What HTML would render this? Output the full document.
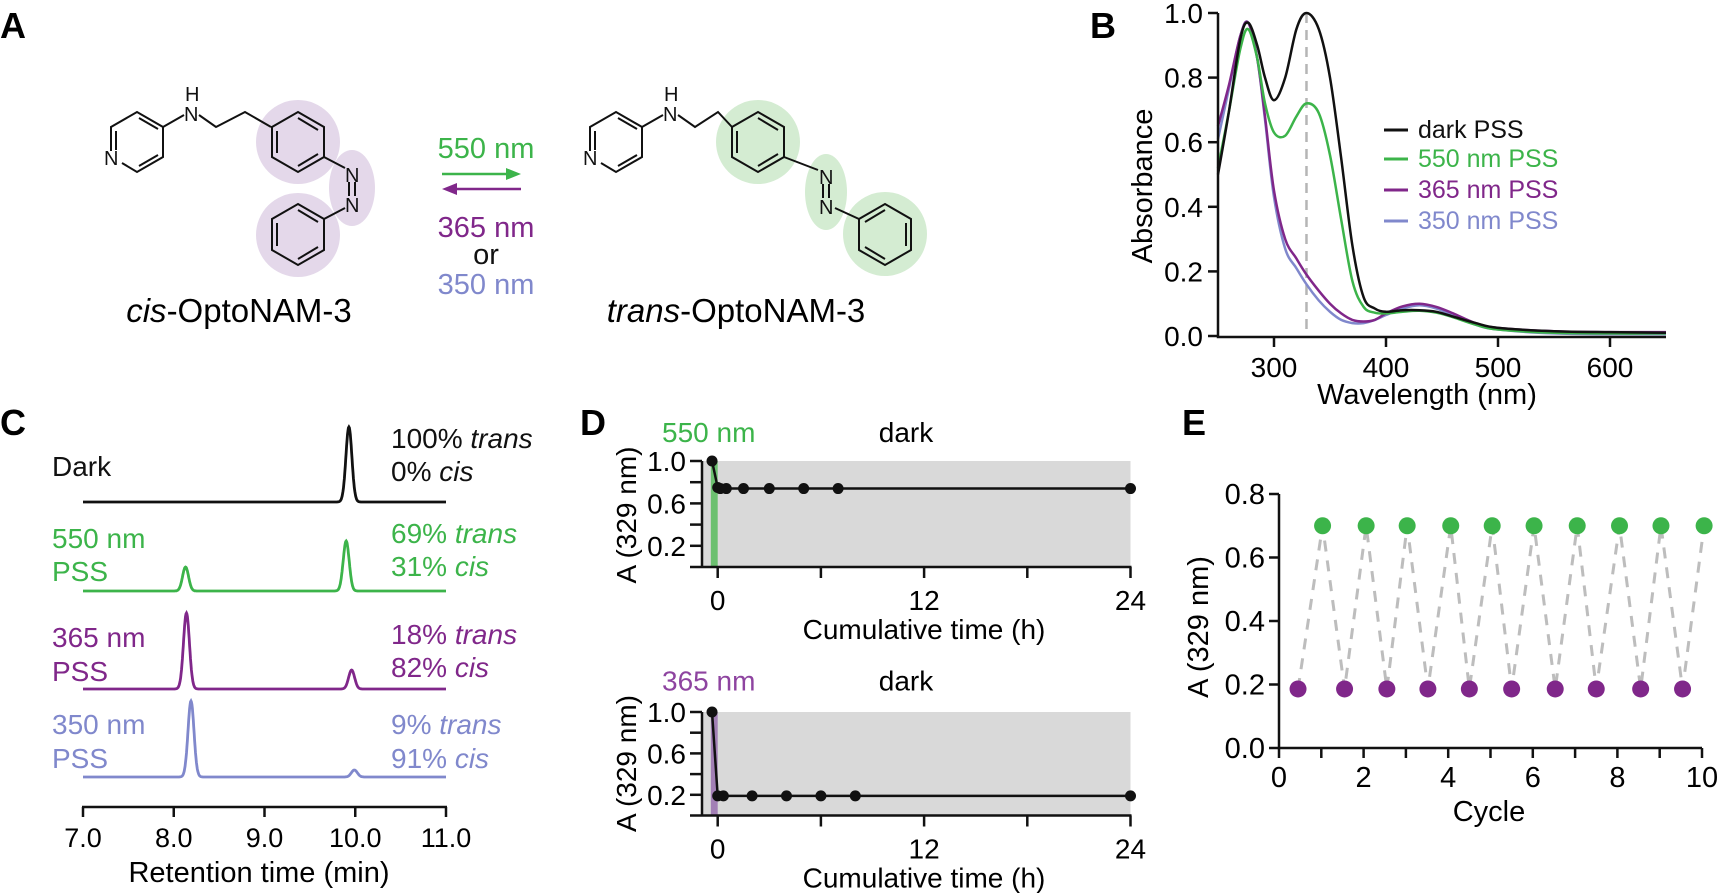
<!DOCTYPE html>
<html><head><meta charset="utf-8"><style>
html,body{margin:0;padding:0;background:#fff;}
svg{display:block;font-family:"Liberation Sans",Arial,sans-serif;}
</style></head><body>
<svg id="fig" width="1717" height="893" viewBox="0 0 1717 893" xmlns="http://www.w3.org/2000/svg">
<!-- Panel A -->
<g>
<text x="0" y="38" font-size="36" font-weight="bold">A</text>
<g fill="none" stroke="#111" stroke-width="2">
 <circle cx="298" cy="142" r="42" fill="#e4d8ea" stroke="none"/>
 <circle cx="298" cy="235" r="42" fill="#e4d8ea" stroke="none"/>
 <ellipse cx="352" cy="188" rx="23" ry="38" fill="#e4d8ea" stroke="none"/>
 <polyline points="111,151 111,127 137,112 163,127 163,157 137,172 122,163"/>
 <line x1="116" y1="131" x2="116" y2="150"/><line x1="139" y1="118" x2="158" y2="129"/><line x1="139" y1="166" x2="158" y2="155"/>
 <polyline points="163,127 184,115"/><polyline points="199,115 216,127 245,112 271,127"/>
 <polygon points="298,112 324,127 324,157 298,172 272,157 272,127"/>
 <line x1="277" y1="131" x2="277" y2="153"/><line x1="298" y1="118" x2="318" y2="130"/><line x1="298" y1="166" x2="318" y2="154"/>
 <line x1="324" y1="157" x2="345" y2="168"/>
 <line x1="349" y1="182" x2="349" y2="196"/><line x1="355" y1="182" x2="355" y2="196"/>
 <line x1="345" y1="208" x2="324" y2="219"/>
 <polygon points="298,204 324,219 324,250 298,265 272,250 272,219"/>
 <line x1="277" y1="223" x2="277" y2="246"/><line x1="298" y1="210" x2="318" y2="222"/><line x1="298" y1="259" x2="318" y2="247"/>
 <g stroke="none" fill="#111" font-size="20">
  <text x="104" y="165">N</text><text x="184" y="121">N</text><text x="185" y="101">H</text>
  <text x="345" y="182">N</text><text x="345" y="212">N</text>
 </g>
</g>
<text x="239" y="322" font-size="33" text-anchor="middle"><tspan font-style="italic">cis</tspan>-OptoNAM-3</text>
<g>
 <text x="486" y="158" font-size="29" fill="#3cb44a" text-anchor="middle">550 nm</text>
 <line x1="442" y1="174" x2="510" y2="174" stroke="#3cb44a" stroke-width="2.5"/>
 <polygon points="521,174 506,168 506,180" fill="#3cb44a"/>
 <line x1="453" y1="189" x2="521" y2="189" stroke="#80278a" stroke-width="2.5"/>
 <polygon points="442,189 457,183 457,195" fill="#80278a"/>
 <text x="486" y="237" font-size="29" fill="#80278a" text-anchor="middle">365 nm</text>
 <text x="486" y="264" font-size="29" fill="#111" text-anchor="middle">or</text>
 <text x="486" y="294" font-size="29" fill="#8088cc" text-anchor="middle">350 nm</text>
</g>
<g fill="none" stroke="#111" stroke-width="2">
 <circle cx="758" cy="142" r="42" fill="#d4ecd2" stroke="none"/>
 <ellipse cx="826" cy="192" rx="21" ry="38" fill="#d4ecd2" stroke="none"/>
 <circle cx="885" cy="234" r="42" fill="#d4ecd2" stroke="none"/>
 <polyline points="590,151 590,127 616,112 642,127 642,157 616,172 601,163"/>
 <line x1="595" y1="131" x2="595" y2="150"/><line x1="618" y1="118" x2="637" y2="129"/><line x1="618" y1="166" x2="637" y2="155"/>
 <polyline points="642,127 663,115"/><polyline points="678,115 695,127 718,112 732,127"/>
 <polygon points="758,112 784,127 784,157 758,172 732,157 732,127"/>
 <line x1="737" y1="131" x2="737" y2="153"/><line x1="758" y1="118" x2="778" y2="130"/><line x1="758" y1="166" x2="778" y2="154"/>
 <line x1="784" y1="157" x2="818" y2="170"/>
 <line x1="823" y1="184" x2="823" y2="198"/><line x1="829" y1="184" x2="829" y2="198"/>
 <line x1="835" y1="208" x2="859" y2="219"/>
 <polygon points="885,204 911,219 911,250 885,265 859,250 859,219"/>
 <line x1="906" y1="223" x2="906" y2="246"/><line x1="865" y1="222" x2="885" y2="210"/><line x1="865" y1="247" x2="885" y2="259"/>
 <g stroke="none" fill="#111" font-size="20">
  <text x="583" y="165">N</text><text x="663" y="121">N</text><text x="664" y="101">H</text>
  <text x="819" y="184">N</text><text x="819" y="214">N</text>
 </g>
</g>
<text x="736" y="322" font-size="33" text-anchor="middle"><tspan font-style="italic">trans</tspan>-OptoNAM-3</text>
</g>
<g id="panelB"></g>
<g id="panelC"></g>
<g id="panelD"></g>
<g id="panelE"></g>
</svg>
<script>
// ---------- Panel B data ----------
const bWavelengths = [250,260,270,277,285,292,300,310,320,329,340,350,360,370,380,390,400,415,430,445,460,480,500,550,600,650];
const bDark   = [.50,.70,.92,.97,.90,.80,.73,.80,.95,1.0,.95,.80,.55,.28,.12,.085,.075,.08,.08,.075,.06,.04,.025,.015,.012,.01];
const b550    = [.52,.70,.89,.95,.86,.72,.63,.62,.68,.72,.69,.56,.36,.17,.09,.072,.07,.075,.078,.072,.058,.035,.02,.01,.008,.008];
const b365    = [.65,.78,.93,.97,.86,.68,.45,.30,.24,.19,.14,.10,.07,.05,.045,.05,.07,.092,.10,.09,.07,.04,.025,.015,.012,.012];
const b350    = [.61,.77,.93,.97,.86,.67,.43,.27,.21,.16,.11,.075,.05,.04,.04,.05,.065,.085,.095,.085,.065,.035,.02,.008,.006,.006];
const bSeriesNames = ["dark PSS","550 nm PSS","365 nm PSS","350 nm PSS"];
const bXTicks = [300,400,500,600];
const bYTicks = [0,0.2,0.4,0.6,0.8,1.0];
const bMarker = 329;
// ---------- Panel C data ----------
const cTraceLabels = [["Dark"],["550 nm","PSS"],["365 nm","PSS"],["350 nm","PSS"]];
const cTransText = ["100%","69%","18%","9%"];
const cCisText = ["0%","31%","82%","91%"];
const cPeakTimes = [[9.93],[8.13,9.9],[8.14,9.96],[8.19,9.99]];
const cPeakHeights = [[75],[24,50],[76,19],[76,7]];
const cXTicks = [7.0,8.0,9.0,10.0,11.0];
// ---------- Panel D data ----------
const dTopTimes = [-0.33,0,0.15,0.5,1.5,3,5,7,24];
const dTopVals  = [1.0,0.75,0.74,0.74,0.74,0.74,0.74,0.74,0.74];
const dBotTimes = [-0.33,0,0.33,2,4,6,8,24];
const dBotVals  = [1.0,0.19,0.19,0.19,0.19,0.19,0.19,0.19];
const dXTicks = [0,12,24];
const dYTickLabels = [0.2,0.6,1.0];
const dYMinor = [0.2,0.4,0.6,0.8,1.0];
// ---------- Panel E data ----------
const eGreenX = [1.03,2.06,3.03,4.06,5.04,6.03,7.05,8.05,9.03,10.05];
const eGreenY = [0.70,0.70,0.70,0.70,0.70,0.70,0.70,0.70,0.70,0.70];
const ePurpleX = [0.45,1.55,2.55,3.52,4.5,5.5,6.53,7.5,8.55,9.54];
const ePurpleY = [0.186,0.186,0.186,0.186,0.186,0.186,0.186,0.186,0.186,0.186];
const eXTicks = [0,2,4,6,8,10];
const eYTicks = [0.0,0.2,0.4,0.6,0.8];

const NS="http://www.w3.org/2000/svg";
function mk(parent,tag,attrs,text){const e=document.createElementNS(NS,tag);for(const k in attrs)e.setAttribute(k,attrs[k]);if(text!==undefined)e.textContent=text;parent.appendChild(e);return e;}
function smooth(pts){let d="M"+pts[0][0]+","+pts[0][1];for(let i=0;i<pts.length-1;i++){const p0=pts[Math.max(i-1,0)],p1=pts[i],p2=pts[i+1],p3=pts[Math.min(i+2,pts.length-1)];const c1=[p1[0]+(p2[0]-p0[0])/6,p1[1]+(p2[1]-p0[1])/6],c2=[p2[0]-(p3[0]-p1[0])/6,p2[1]-(p3[1]-p1[1])/6];d+=" C"+c1[0].toFixed(1)+","+c1[1].toFixed(1)+" "+c2[0].toFixed(1)+","+c2[1].toFixed(1)+" "+p2[0].toFixed(1)+","+p2[1].toFixed(1);}return d;}
const BLACK="#111", GREEN="#3cb44a", PURPLE="#80278a", LAV="#8088cc";

// ===== Panel B =====
(function(){
 const g=document.getElementById('panelB');
 const bx=v=>1218+(v-250)*1.12, by=v=>336-v*323;
 const lb=mk(g,'text',{x:1090,y:38,'font-size':36,'font-weight':'bold'},'B');
 
 
 const dl=mk(g,'line',{x1:bx(bMarker),x2:bx(bMarker),y1:by(1.0),y2:by(0),stroke:'#b5b5b5','stroke-width':2.5,'stroke-dasharray':'10,7'});
 
 
 const series=[bDark,b550,b365,b350], cols=[BLACK,GREEN,PURPLE,LAV];
 [3,2,1,0].forEach(i=>{
  const pts=bWavelengths.map((w,j)=>[bx(w),by(series[i][j])]);
  const p=mk(g,'path',{d:smooth(pts),fill:'none',stroke:cols[i],'stroke-width':2.5});
  
  
 });
 const ax=mk(g,'path',{d:`M1218,${by(1.0)} V337 H1666`,fill:'none',stroke:BLACK,'stroke-width':2.5});
 
 
 bYTicks.forEach(v=>{mk(g,'line',{x1:1208,x2:1218,y1:by(v),y2:by(v),stroke:BLACK,'stroke-width':2.5});
  const t=mk(g,'text',{x:1203,y:by(v)+10,'font-size':28,'text-anchor':'end'},v.toFixed(1));
  
  });
 bXTicks.forEach(v=>{mk(g,'line',{x1:bx(v),x2:bx(v),y1:337,y2:347,stroke:BLACK,'stroke-width':2.5});
  const t=mk(g,'text',{x:bx(v),y:377,'font-size':28,'text-anchor':'middle'},v);
  
  });
 const xt=mk(g,'text',{x:1427,y:404,'font-size':29,'text-anchor':'middle'},'Wavelength (nm)');
 
 
 const yt=mk(g,'text',{x:0,y:0,'font-size':29,'text-anchor':'middle',transform:'translate(1152,186) rotate(-90)'},'Absorbance');
 
 
 const ly=[138,167,198,229];
 bSeriesNames.forEach((n,i)=>{
  mk(g,'line',{x1:1384,x2:1408,y1:ly[i]-8,y2:ly[i]-8,stroke:cols[i],'stroke-width':3});
  const t=mk(g,'text',{x:1418,y:ly[i],'font-size':25,fill:cols[i]},n);
  
  
 });
})();

// ===== Panel C =====
(function(){
 const g=document.getElementById('panelC');
 const cx=v=>83+(v-7)*90.75;
 const baselines=[502,591,689,777], cols=[BLACK,GREEN,PURPLE,LAV];
 const lc=mk(g,'text',{x:0,y:435,'font-size':36,'font-weight':'bold'},'C');
 
 
 const sig=0.033;
 cPeakTimes.forEach((peaks,i)=>{
  const pts=[];
  for(let t=7;t<=11.0001;t+=0.005){let h=0;peaks.forEach((p,k)=>{h+=cPeakHeights[i][k]*Math.exp(-((t-p)**2)/(2*sig*sig));});pts.push(cx(t).toFixed(1)+","+(baselines[i]-h).toFixed(1));}
  const pl=mk(g,'polyline',{points:pts.join(' '),fill:'none',stroke:cols[i],'stroke-width':2.8});
  
  
 });
 const lblY=[[476],[548,581],[647,681],[734,768]];
 cTraceLabels.forEach((ls,i)=>ls.forEach((s,k)=>{const t=mk(g,'text',{x:52,y:lblY[i][k],'font-size':28,fill:cols[i]},s);
  
  }));
 const rY=[[448,481],[543,576],[644,677],[734,768]];
 cTransText.forEach((s,i)=>{
  const t1=mk(g,'text',{x:391,y:rY[i][0],'font-size':28,fill:cols[i]});
  
  
  mk(t1,'tspan',{},s+' ');mk(t1,'tspan',{'font-style':'italic'},'trans');
  const t2=mk(g,'text',{x:391,y:rY[i][1],'font-size':28,fill:cols[i]});
  
  
  mk(t2,'tspan',{},cCisText[i]+' ');mk(t2,'tspan',{'font-style':'italic'},'cis');
 });
 const ax=mk(g,'line',{x1:82,x2:447,y1:807,y2:807,stroke:BLACK,'stroke-width':2.5});
 
 
 cXTicks.forEach(v=>{mk(g,'line',{x1:cx(v),x2:cx(v),y1:807,y2:817,stroke:BLACK,'stroke-width':2.5});
  const t=mk(g,'text',{x:cx(v),y:847,'font-size':27,'text-anchor':'middle'},v.toFixed(1));
  
  });
 const xt=mk(g,'text',{x:259,y:882,'font-size':29,'text-anchor':'middle'},'Retention time (min)');
 
 
})();

// ===== Panel D =====
(function(){
 const g=document.getElementById('panelD');
 const dx=v=>717.7+v*17.2;
 const ld=mk(g,'text',{x:580,y:435,'font-size':36,'font-weight':'bold'},'D');
 
 
 function sub(y0,ppu,times,vals,lightLabel,lightCol,bandCol,tag){
  const dy=v=>y0-v*ppu;
  const bg=mk(g,'rect',{x:703,y:dy(1.0),width:dx(24)-703,height:y0-dy(1.0),fill:'#d9d9d9'});
  
  
  const band=mk(g,'rect',{x:dx(-0.4),y:dy(1.0),width:dx(0)-dx(-0.4),height:y0-dy(1.0),fill:bandCol});
  
  
  const ln=mk(g,'polyline',{points:times.map((t,i)=>dx(t)+","+dy(vals[i])).join(' '),fill:'none',stroke:BLACK,'stroke-width':2.5});
  
  
  times.forEach((t,i)=>{const c=mk(g,'circle',{cx:dx(t),cy:dy(vals[i]),r:5.5,fill:BLACK});
   
   });
  mk(g,'path',{d:`M702,${dy(1.0)} V${y0} M690,${y0} H${dx(24)+1}`,fill:'none',stroke:BLACK,'stroke-width':2.5});
  dYMinor.forEach(v=>mk(g,'line',{x1:690,x2:702,y1:dy(v),y2:dy(v),stroke:BLACK,'stroke-width':2.5}));
  dYTickLabels.forEach(v=>{const t=mk(g,'text',{x:686,y:dy(v)+10,'font-size':28,'text-anchor':'end'},v.toFixed(1));
   
   });
  [0,6,12,18,24].forEach(v=>mk(g,'line',{x1:dx(v),x2:dx(v),y1:y0,y2:y0+11,stroke:BLACK,'stroke-width':2.5}));
  dXTicks.forEach(v=>{const t=mk(g,'text',{x:dx(v),y:y0+43,'font-size':28,'text-anchor':'middle'},v);
   
   });
  const xt=mk(g,'text',{x:924,y:y0+72,'font-size':28,'text-anchor':'middle'},'Cumulative time (h)');
  
  
  const yt=mk(g,'text',{x:0,y:0,'font-size':28,'text-anchor':'middle',transform:`translate(636,${y0-52}) rotate(-90)`},'A (329 nm)');
  
  
  const l1=mk(g,'text',{x:662,y:y0-125,'font-size':28,fill:lightCol},lightLabel);
  
  
  const l2=mk(g,'text',{x:906,y:y0-125,'font-size':28,'text-anchor':'middle'},'dark');
  
  
 }
 sub(567,106,dTopTimes,dTopVals,'550 nm',GREEN,'#6cc070','d-top');
 sub(815.5,103.5,dBotTimes,dBotVals,'365 nm','#8e44a0','#a27fb5','d-bottom');
})();

// ===== Panel E =====
(function(){
 const g=document.getElementById('panelE');
 const ex=v=>1279+v*42.3, ey=v=>748-v*317.5;
 const le=mk(g,'text',{x:1182,y:435,'font-size':36,'font-weight':'bold'},'E');
 
 
 const seq=[];
 for(let i=0;i<ePurpleX.length;i++){seq.push([ex(ePurpleX[i]),ey(ePurpleY[i])]);if(i<eGreenX.length)seq.push([ex(eGreenX[i]),ey(eGreenY[i])]);}
 const dl=mk(g,'polyline',{points:seq.map(p=>p.join(',')).join(' '),fill:'none',stroke:'#bdbdbd','stroke-width':3,'stroke-dasharray':'11,9'});
 
 
 mk(g,'path',{d:`M1279,${ey(0.8)} V748 H1702`,fill:'none',stroke:BLACK,'stroke-width':2.5});
 eYTicks.forEach(v=>{mk(g,'line',{x1:1269,x2:1279,y1:ey(v),y2:ey(v),stroke:BLACK,'stroke-width':2.5});
  const t=mk(g,'text',{x:1265,y:ey(v)+10,'font-size':29,'text-anchor':'end'},v.toFixed(1));
  
  });
 for(let v=0;v<=10;v++)mk(g,'line',{x1:ex(v),x2:ex(v),y1:748,y2:758,stroke:BLACK,'stroke-width':2.5});
 eXTicks.forEach(v=>{const t=mk(g,'text',{x:ex(v),y:787,'font-size':29,'text-anchor':'middle'},v);
  
  });
 const xt=mk(g,'text',{x:1489,y:821,'font-size':29,'text-anchor':'middle'},'Cycle');
 
 
 const yt=mk(g,'text',{x:0,y:0,'font-size':29,'text-anchor':'middle',transform:'translate(1208,627) rotate(-90)'},'A (329 nm)');
 
 
 eGreenX.forEach((x,i)=>{const c=mk(g,'circle',{cx:ex(x),cy:ey(eGreenY[i]),r:8.5,fill:GREEN});
  
  });
 ePurpleX.forEach((x,i)=>{const c=mk(g,'circle',{cx:ex(x),cy:ey(ePurpleY[i]),r:8.5,fill:PURPLE});
  
  });
})();
</script>
</body></html>
